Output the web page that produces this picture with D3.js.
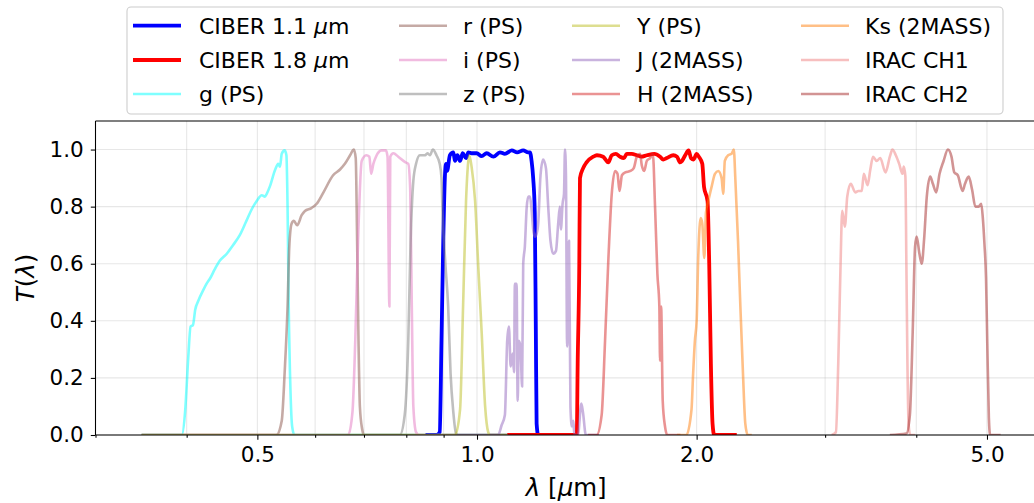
<!DOCTYPE html>
<html><head><meta charset="utf-8">
<script src="https://cdn.jsdelivr.net/npm/d3@7"></script>
<style>body{margin:0;background:#fff} svg{display:block} text{font-family:"DejaVu Sans",sans-serif;fill:#000}</style>
</head><body><svg id="c" width="1034" height="503"></svg>
<script>
// ---- data: [wavelength (um), transmission] ----
const ciber11 = [[0.85,0],[0.88,0],[0.889,0.01],[0.894,0.33],[0.899,0.68],[0.904,0.915],[0.907,0.95],[0.910,0.925],[0.918,0.98],[0.928,0.99],[0.933,0.96],[0.940,0.98],[0.948,0.96],[0.956,0.987],[0.966,0.97],[0.973,0.99],[0.983,0.987],[0.999,0.987],[1.015,0.977],[1.031,0.987],[1.053,0.975],[1.075,0.99],[1.092,0.985],[1.116,0.997],[1.135,0.99],[1.157,0.997],[1.175,0.99],[1.182,0.99],[1.188,0.96],[1.194,0.90],[1.200,0.78],[1.204,0.37],[1.207,0.04],[1.213,0],[1.37,0]];
const ciber18 = [[1.10,0],[1.37,0],[1.374,0.25],[1.381,0.60],[1.384,0.90],[1.398,0.935],[1.413,0.955],[1.443,0.975],[1.46,0.98],[1.489,0.975],[1.50,0.965],[1.513,0.955],[1.53,0.98],[1.55,0.985],[1.57,0.975],[1.59,0.97],[1.604,0.985],[1.63,0.985],[1.656,0.98],[1.68,0.975],[1.709,0.98],[1.75,0.985],[1.782,0.975],[1.80,0.965],[1.82,0.97],[1.858,0.98],[1.88,0.975],[1.898,0.955],[1.91,0.96],[1.929,0.98],[1.95,0.997],[1.965,0.97],[1.981,0.965],[2.0,0.985],[2.014,0.975],[2.036,0.95],[2.047,0.87],[2.07,0.82],[2.081,0.60],[2.092,0.25],[2.103,0.04],[2.114,0],[2.27,0]];
const gPS = [[0.347,0],[0.394,0],[0.398,0.08],[0.402,0.27],[0.405,0.38],[0.408,0.385],[0.411,0.44],[0.415,0.47],[0.422,0.51],[0.426,0.53],[0.431,0.55],[0.437,0.58],[0.444,0.61],[0.454,0.635],[0.463,0.665],[0.473,0.70],[0.483,0.75],[0.491,0.79],[0.499,0.82],[0.507,0.84],[0.512,0.835],[0.515,0.845],[0.520,0.87],[0.529,0.93],[0.534,0.95],[0.537,0.94],[0.540,0.985],[0.545,0.997],[0.548,0.98],[0.550,0.80],[0.552,0.45],[0.555,0.16],[0.558,0.03],[0.562,0],[1.10,0]];
const rPS = [[0.347,0],[0.531,0],[0.54,0.05],[0.545,0.22],[0.55,0.45],[0.553,0.66],[0.557,0.74],[0.561,0.75],[0.567,0.735],[0.575,0.77],[0.581,0.785],[0.593,0.795],[0.603,0.81],[0.616,0.85],[0.635,0.91],[0.649,0.93],[0.659,0.95],[0.67,0.98],[0.678,1.0],[0.682,0.97],[0.685,0.68],[0.688,0.33],[0.691,0.10],[0.696,0.02],[0.70,0],[1.10,0]];
const iPS = [[0.347,0],[0.666,0],[0.675,0.08],[0.681,0.33],[0.687,0.68],[0.695,0.96],[0.705,0.98],[0.712,0.975],[0.716,0.915],[0.721,0.95],[0.727,0.975],[0.74,0.997],[0.75,0.997],[0.754,0.975],[0.7585,0.45],[0.7605,0.975],[0.768,0.987],[0.78,0.975],[0.797,0.956],[0.805,0.95],[0.81,0.86],[0.814,0.45],[0.818,0.10],[0.825,0.01],[0.832,0],[1.10,0]];
const zPS = [[0.347,0],[0.784,0],[0.796,0.07],[0.805,0.33],[0.811,0.68],[0.818,0.89],[0.825,0.95],[0.835,0.98],[0.849,0.98],[0.855,0.987],[0.862,0.98],[0.87,1.0],[0.88,0.98],[0.889,0.95],[0.894,0.90],[0.897,0.78],[0.905,0.60],[0.913,0.45],[0.92,0.215],[0.928,0.08],[0.936,0.005],[0.942,0],[1.10,0]];
const yPS = [[0.347,0],[0.933,0],[0.948,0.09],[0.957,0.45],[0.966,0.82],[0.973,0.96],[0.976,0.98],[0.983,0.94],[0.994,0.82],[1.004,0.59],[1.015,0.355],[1.026,0.10],[1.036,0.01],[1.042,0],[1.10,0]];
const J2M = [[1.04,0],[1.069,0],[1.081,0.035],[1.092,0.07],[1.10,0.33],[1.106,0.38],[1.112,0.24],[1.119,0.285],[1.124,0.22],[1.127,0.53],[1.133,0.53],[1.137,0.12],[1.141,0.33],[1.147,0.31],[1.153,0.17],[1.157,0.60],[1.163,0.66],[1.17,0.80],[1.176,0.835],[1.182,0.835],[1.188,0.79],[1.194,0.72],[1.20,0.695],[1.207,0.705],[1.213,0.74],[1.222,0.91],[1.232,0.965],[1.243,0.935],[1.252,0.80],[1.261,0.68],[1.272,0.635],[1.283,0.645],[1.292,0.74],[1.299,0.80],[1.303,0.72],[1.31,0.81],[1.316,0.845],[1.32,1.0],[1.324,0.915],[1.329,0.31],[1.337,0.68],[1.343,0.10],[1.349,0.03],[1.355,0.05],[1.36,0],[1.375,0],[1.39,0.11],[1.397,0.08],[1.41,0],[1.47,0]];
const H2M = [[1.42,0],[1.459,0],[1.482,0.07],[1.498,0.33],[1.514,0.62],[1.53,0.845],[1.546,0.925],[1.558,0.915],[1.568,0.855],[1.58,0.91],[1.597,0.92],[1.623,0.925],[1.64,0.935],[1.656,0.975],[1.673,0.985],[1.682,0.945],[1.695,0.925],[1.709,0.96],[1.727,0.97],[1.742,0.985],[1.754,0.80],[1.767,0.565],[1.778,0.45],[1.782,0.26],[1.788,0.45],[1.797,0.12],[1.81,0.03],[1.823,0],[1.90,0]];
const Ks2M = [[1.88,0],[1.936,0],[1.968,0.09],[1.978,0.215],[1.989,0.33],[2.0,0.40],[2.01,0.62],[2.026,0.76],[2.036,0.74],[2.049,0.62],[2.06,0.78],[2.075,0.82],[2.097,0.87],[2.119,0.915],[2.141,0.925],[2.164,0.90],[2.175,0.845],[2.186,0.96],[2.209,0.98],[2.233,0.985],[2.249,1.0],[2.26,0.895],[2.279,0.68],[2.296,0.45],[2.315,0.215],[2.332,0.04],[2.35,0],[2.38,0]];
const irac1 = [[3.063,0],[3.104,0.01],[3.127,0.25],[3.15,0.60],[3.166,0.785],[3.193,0.73],[3.217,0.835],[3.253,0.88],[3.30,0.85],[3.332,0.855],[3.368,0.855],[3.39,0.915],[3.43,0.875],[3.46,0.93],[3.49,0.975],[3.53,0.96],[3.57,0.97],[3.63,0.92],[3.68,0.975],[3.71,1.0],[3.75,0.98],[3.79,0.95],[3.83,0.915],[3.845,0.94],[3.865,0.905],[3.877,0.60],[3.89,0.25],[3.905,0.035],[3.925,0],[3.985,0]];
const irac2 = [[3.68,0],[3.877,0.005],[3.92,0.07],[3.955,0.36],[3.985,0.66],[4.005,0.695],[4.04,0.635],[4.07,0.60],[4.10,0.685],[4.135,0.835],[4.18,0.905],[4.215,0.88],[4.26,0.85],[4.305,0.915],[4.36,0.96],[4.42,1.0],[4.47,0.975],[4.51,0.92],[4.56,0.91],[4.63,0.855],[4.665,0.88],[4.72,0.905],[4.77,0.86],[4.82,0.80],[4.87,0.80],[4.91,0.81],[4.935,0.76],[4.96,0.67],[4.985,0.55],[5.005,0.32],[5.03,0.06],[5.05,0],[5.22,0]];

const seriesLabels = ["CIBER 1.1 μm","CIBER 1.8 μm","g (PS)","r (PS)","i (PS)","z (PS)","Y (PS)","J (2MASS)","H (2MASS)","Ks (2MASS)","IRAC CH1","IRAC CH2"];
const seriesData = [ciber11, ciber18, gPS, rPS, iPS, zPS, yPS, J2M, H2M, Ks2M, irac1, irac2];
const seriesColors = ["#0000ff","#ff0000","#00ffff","#8c564b","#e377c2","#7f7f7f","#bcbd22","#9467bd","#d62728","#ff7f0e","#f08080","#a52a2a"];
const seriesAlpha = [1,1,0.5,0.5,0.5,0.5,0.5,0.5,0.5,0.5,0.5,0.5];
const xMajorTicks = [0.5, 1.0, 2.0, 5.0];
const xMinorTicks = [0.3,0.4,0.6,0.7,0.8,0.9,3,4];
const yTicks = [0,0.2,0.4,0.6,0.8,1.0];

// ---- layout ----
const L = 95.5, R = 1037, T = 121, B = 435;
const svg = d3.select("#c");
const x = d3.scaleLog().domain([0.3, 5.855]).range([L, R]);
const y = d3.scaleLinear().domain([0, 1.1]).range([B, T]);
const tickFont = 21.5, legFont = 22, labFont = 24.5;

svg.append("defs").append("clipPath").attr("id","clip")
  .append("rect").attr("x",L).attr("y",T).attr("width",R-L).attr("height",B-T);

// grid
const grid = svg.append("g").attr("stroke","#b0b0b0").attr("stroke-opacity",0.3).attr("stroke-width",1.07);
xMajorTicks.concat(xMinorTicks).forEach(v=>{
  grid.append("line").attr("x1",x(v)).attr("x2",x(v)).attr("y1",T).attr("y2",B);
});
yTicks.forEach(v=>{
  grid.append("line").attr("x1",L).attr("x2",R).attr("y1",y(v)).attr("y2",y(v));
});

// lines
const line = d3.line().x(d=>x(d[0])).y(d=>y(d[1])).curve(d3.curveMonotoneX);
const lg = svg.append("g").attr("clip-path","url(#clip)");
seriesData.forEach((d,i)=>{
  lg.append("path").attr("d",line(d)).attr("fill","none")
    .attr("stroke",seriesColors[i]).attr("stroke-opacity",seriesAlpha[i])
    .attr("stroke-width", i<2 ? 3.8 : 2.6)
    .attr("stroke-linejoin","round");
});

// spines
const sp = svg.append("g").attr("stroke","#000").attr("stroke-width",1.07).attr("fill","none");
sp.append("line").attr("x1",L).attr("x2",L).attr("y1",T).attr("y2",B);
sp.append("line").attr("x1",L).attr("x2",R).attr("y1",B).attr("y2",B);
sp.append("line").attr("x1",L).attr("x2",R).attr("y1",T).attr("y2",T);
sp.append("line").attr("x1",R).attr("x2",R).attr("y1",T).attr("y2",B);

// x axis
const xAxis = d3.axisBottom(x).tickValues(xMajorTicks).tickSize(4.7).tickPadding(7).tickFormat(d3.format(".1f"));
const gx = svg.append("g").attr("transform",`translate(0,${B})`).call(xAxis);
const xAxisMinor = d3.axisBottom(x).tickValues(xMinorTicks).tickSize(2.7).tickFormat("");
const gxm = svg.append("g").attr("transform",`translate(0,${B})`).call(xAxisMinor);
[gx,gxm].forEach(g=>{ g.select(".domain").remove(); g.selectAll("line").attr("stroke","#000").attr("stroke-width",1.07); });
gx.selectAll("text").attr("font-size",tickFont).attr("font-family","DejaVu Sans").attr("fill","#000");

// y axis
const yAxis = d3.axisLeft(y).tickValues(yTicks).tickSize(4.7).tickPadding(7).tickFormat(d3.format(".1f"));
const gy = svg.append("g").attr("transform",`translate(${L},0)`).call(yAxis);
gy.select(".domain").remove();
gy.selectAll("line").attr("stroke","#000").attr("stroke-width",1.07);
gy.selectAll("text").attr("font-size",tickFont).attr("font-family","DejaVu Sans").attr("fill","#000");

// axis labels
const xl = svg.append("text").attr("x",(L+R)/2).attr("y",496).attr("text-anchor","middle").attr("font-size",labFont);
xl.append("tspan").attr("font-style","italic").text("λ");
xl.append("tspan").text(" [");
xl.append("tspan").attr("font-style","italic").text("μ");
xl.append("tspan").text("m]");
const yl = svg.append("text").attr("transform",`translate(34,${(T+B)/2}) rotate(-90)`).attr("text-anchor","middle").attr("font-size",labFont);
yl.append("tspan").attr("font-style","italic").text("T");
yl.append("tspan").text("(");
yl.append("tspan").attr("font-style","italic").text("λ");
yl.append("tspan").text(")");

// legend
const leg = svg.append("g");
leg.append("rect").attr("x",127).attr("y",7).attr("width",876).attr("height",107).attr("rx",4)
  .attr("fill","#fff").attr("fill-opacity",0.8).attr("stroke","#cccccc").attr("stroke-width",1.07);
const colHandle = [133, 399, 572, 801], colText = [199, 463, 637, 865], rowY = [25.7, 60, 94];
seriesLabels.forEach((lab,i)=>{
  const c = Math.floor(i/3), r = i%3;
  leg.append("line").attr("x1",colHandle[c]).attr("x2",colHandle[c]+48).attr("y1",rowY[r]).attr("y2",rowY[r])
    .attr("stroke",seriesColors[i]).attr("stroke-opacity",seriesAlpha[i]).attr("stroke-width", i<2?3.8:2.6);
  const t = leg.append("text").attr("x",colText[c]).attr("y",rowY[r]+8).attr("font-size",legFont);
  if (lab.includes("μ")) {
    const parts = lab.split("μ");
    t.append("tspan").text(parts[0]);
    t.append("tspan").attr("font-style","italic").text("μ");
    t.append("tspan").text(parts[1]);
  } else t.text(lab);
});
</script></body></html>
